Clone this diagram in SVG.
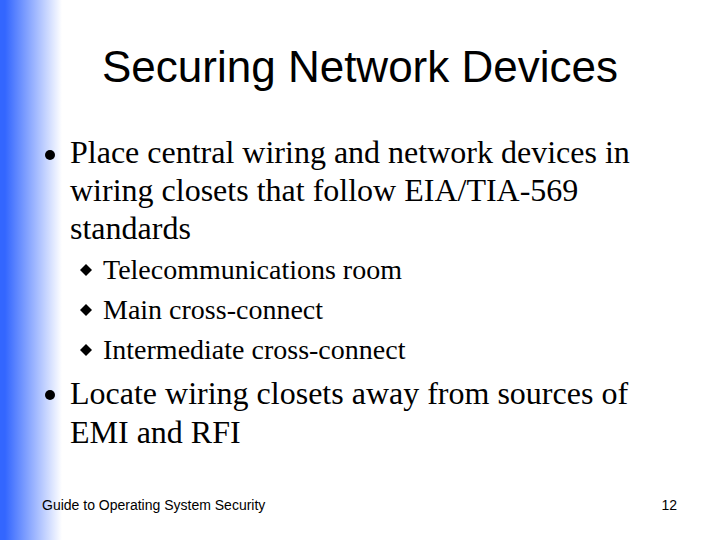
<svg xmlns="http://www.w3.org/2000/svg" width="720" height="540" viewBox="0 0 720 540">
<defs><linearGradient id="g" x1="0" x2="1" y1="0" y2="0"><stop offset="0" stop-color="#3366ff"/><stop offset="0.08" stop-color="#3366ff"/><stop offset="1" stop-color="#ffffff"/></linearGradient></defs>
<style>.b{font-family:"Liberation Serif",serif;font-size:32px;fill:#000}.s{font-family:"Liberation Serif",serif;font-size:28px;fill:#000}.f{font-family:"Liberation Sans",sans-serif;font-size:14px;fill:#000}</style>
<rect width="720" height="540" fill="#fff"/>
<rect width="62" height="540" fill="url(#g)"/>
<text x="360" y="82" text-anchor="middle" font-family="Liberation Sans,sans-serif" font-size="44">Securing Network Devices</text>
<circle cx="50" cy="155" r="5"/>
<text class="b" x="70" y="163">Place central wiring and network devices in</text>
<text class="b" x="70" y="201">wiring closets that follow EIA/TIA-569</text>
<text class="b" x="70" y="239">standards</text>
<path d="M86 264l6 6-6 6-6-6z"/><text class="s" x="103" y="279">Telecommunications room</text>
<path d="M86 304l6 6-6 6-6-6z"/><text class="s" x="103" y="319">Main cross-connect</text>
<path d="M86 344l6 6-6 6-6-6z"/><text class="s" x="103" y="359">Intermediate cross-connect</text>
<circle cx="50" cy="395" r="5"/>
<text class="b" x="70" y="404">Locate wiring closets away from sources of</text>
<text class="b" x="70" y="443">EMI and RFI</text>
<text class="f" x="42" y="510">Guide to Operating System Security</text>
<text class="f" x="677" y="510" text-anchor="end">12</text>
</svg>
